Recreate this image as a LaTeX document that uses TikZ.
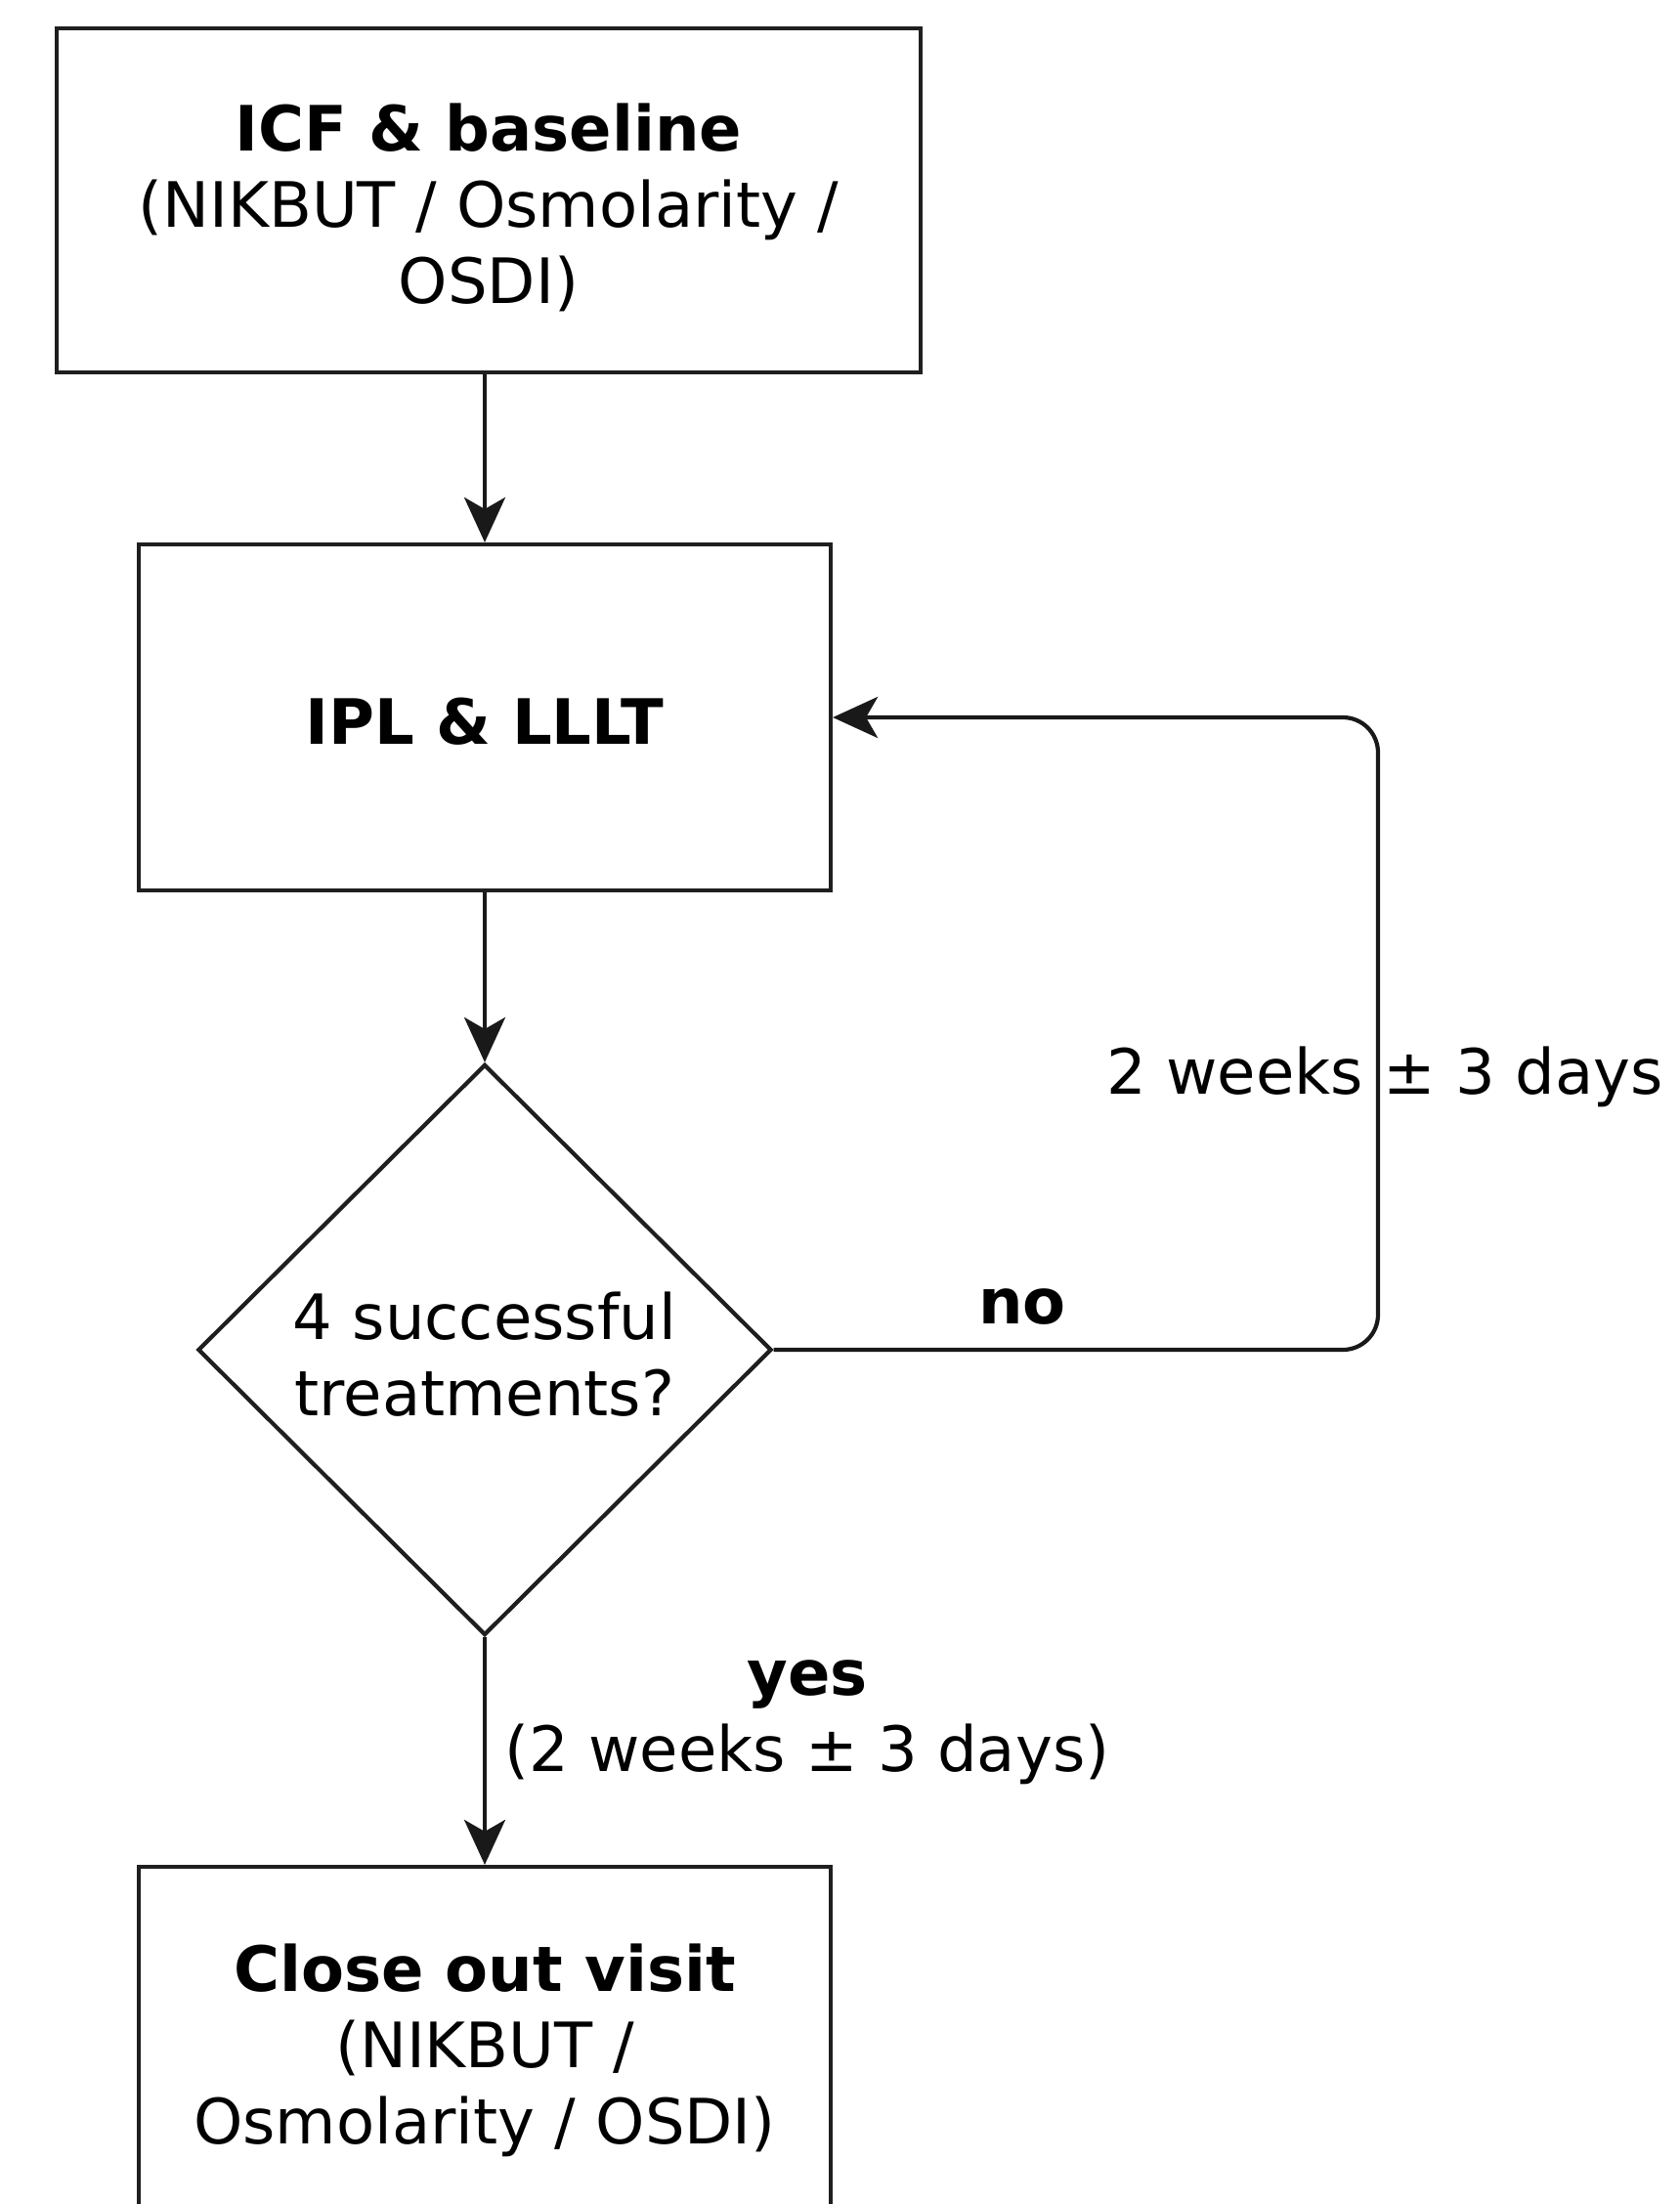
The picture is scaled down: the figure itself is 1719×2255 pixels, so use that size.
\documentclass[tikz,border=0pt]{standalone}
\usepackage{fontspec}
\setmainfont{DejaVu Sans}
\usetikzlibrary{arrows.meta,shapes.geometric}
\begin{document}
\begin{tikzpicture}[x=1pt,y=-1pt,
  every node/.style={font=\fontsize{64}{78}\selectfont, inner sep=0pt},
  boxnode/.style={draw=black!88, line width=4.2pt, rectangle, align=center},
  conn/.style={draw=black!90, line width=4.2pt},
  arr/.style={conn, -{Stealth[length=46pt,width=42pt,inset=12pt]}},
  lbl/.style={align=center}]
\useasboundingbox (0,0) rectangle (1719,2255);
\clip (0,0) rectangle (1719,2255);
\fill[white] (0,0) rectangle (1719,2255);
\node[boxnode, minimum width=884pt, minimum height=352pt] (b1) at (500,205) {};
\node[lbl] (b1text) at (500,212) {\textbf{ICF \& baseline}\\(NIKBUT / Osmolarity /\\OSDI)};
\node[boxnode, minimum width=708pt, minimum height=354pt] (b2) at (496,734) {};
\node[lbl] (b2text) at (496,738) {\textbf{IPL \& LLLT}};
\node[draw=black!88, line width=4.2pt, shape=diamond, minimum width=587pt, minimum height=584pt] (dec) at (496,1381) {};
\node[lbl] (dectext) at (496,1386) {4 successful\\treatments?};
\node[boxnode, minimum width=708pt, minimum height=354pt] (b3) at (496,2087) {};
\node[lbl] (b3text) at (496,2098) {\textbf{Close out visit}\\(NIKBUT /\\Osmolarity / OSDI)};
\coordinate (c1) at (1410,1381);
\coordinate (c2) at (1410,734);
\draw[arr] (b1.south -| b2.north) -- (b2.north);
\draw[arr] (b2.south) -- (dec.north);
\draw[arr] (dec.south) -- (b3.north);
\draw[arr, rounded corners=36pt] (dec.east) -- (c1) -- (c2) -- (b2.east);
\node[lbl] (nolbl) at (1046,1337) {\textbf{no}};
\node[lbl] (looplbl) at (1417,1102) {2 weeks ± 3 days};
\node[lbl] (yeslbl) at (826,1762) {\textbf{yes}\\(2 weeks ± 3 days)};
\end{tikzpicture}
\end{document}
